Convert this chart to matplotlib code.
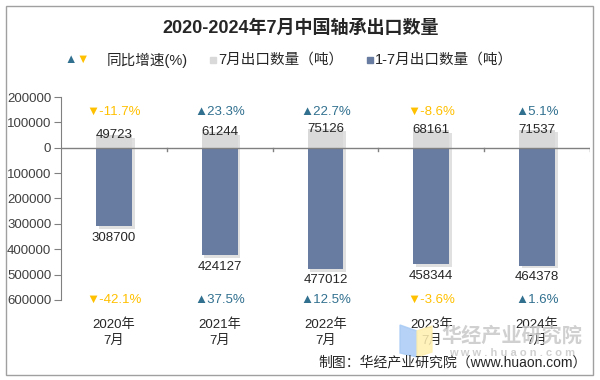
import matplotlib.pyplot as plt
import matplotlib.patheffects as pe
from matplotlib.patches import Rectangle, Polygon
import numpy as np

plt.rcParams['font.family'] = ['Liberation Sans', 'Noto Sans CJK SC', 'DejaVu Sans']

categories = ['2020年\n7月', '2021年\n7月', '2022年\n7月', '2023年\n7月', '2024年\n7月']
july_qty = [49723, 61244, 75126, 68161, 71537]
ytd_qty = [308700, 424127, 477012, 458344, 464378]
july_growth = [-11.7, 23.3, 22.7, -8.6, 5.1]
ytd_growth = [-42.1, 37.5, 12.5, -3.6, 1.6]
yticks = [200000, 100000, 0, -100000, -200000, -300000, -400000, -500000, -600000]

gray = '#D9D9D9'
blue = '#687BA1'
up_color = '#31708F'
down_color = '#FFC000'
text_color = '#262626'

fig = plt.figure(figsize=(6, 3.8), dpi=100)
ax = fig.add_axes([61 / 600, 1 - 300 / 380, 529 / 600, 203 / 380])

x = np.arange(len(categories))
shadow = [pe.SimplePatchShadow(offset=(2, -2), alpha=0.18, shadow_rgbFace='#555555'), pe.Normal()]

bars1 = ax.bar(x, july_qty, width=0.34, color=gray, zorder=2)
bars2 = ax.bar(x, [-v for v in ytd_qty], width=0.34, color=blue, zorder=2)
for b in list(bars1) + list(bars2):
    b.set_path_effects(shadow)

ax.axhline(0, color='#808080', lw=1, zorder=3)

for i in range(len(categories)):
    ax.text(x[i], july_qty[i], f'{july_qty[i]}', ha='center', va='center',
            fontsize=9.5, color=text_color, zorder=4)
    ax.annotate(f'{ytd_qty[i]}', (x[i], -ytd_qty[i]), xytext=(0, -4),
                textcoords='offset points', ha='center', va='top',
                fontsize=9.5, color=text_color)
    for val, ypos in ((july_growth[i], 140000), (ytd_growth[i], -600000)):
        sym = '▲' if val >= 0 else '▼'
        col = up_color if val >= 0 else down_color
        ax.text(x[i], ypos, f'{sym}{val}%', ha='center', va='center',
                fontsize=9.5, color=col)
    ax.annotate(categories[i], (x[i], 0), xycoords=('data', 'axes fraction'),
                xytext=(0, -13), textcoords='offset points', ha='center', va='top',
                fontsize=9.5, color=text_color, linespacing=1.45)

ax.set_xlim(-0.5, 4.5)
ax.set_ylim(-600000, 200000)
ax.set_yticks(yticks)
ax.set_yticklabels([f'{abs(v)}' for v in yticks], fontsize=9.5, color='#404040')
ax.set_xticks([])
ax.tick_params(axis='y', length=5, color='#808080', pad=2)
for s in ['top', 'right', 'bottom']:
    ax.spines[s].set_visible(False)
ax.spines['left'].set_color('#808080')

# tick marks hanging down from the zero line
for tx in [0.5, 1.5, 2.5, 3.5, 4.5]:
    ax.plot([tx, tx], [0, -12000], color='#808080', lw=1, zorder=3)

fig.text(301 / 600, 1 - 28 / 380, '2020-2024年7月中国轴承出口数量', ha='center', va='center',
         fontsize=13, fontweight='bold', color=text_color)

# legend
ly = 1 - 60 / 380
fig.text(64 / 600, ly, '▲', color=up_color, fontsize=9, va='center')
fig.text(76 / 600, ly, '▼', color=down_color, fontsize=9, va='center')
fig.text(107 / 600, ly, '同比增速(%)', color=text_color, fontsize=10.5, va='center')
fig.patches.append(Rectangle((210 / 600, 1 - 63 / 380), 6 / 600, 6 / 380, color=gray,
                             transform=fig.transFigure, figure=fig))
fig.text(218 / 600, ly, '7月出口数量（吨）', color=text_color, fontsize=10.5, va='center')
fig.patches.append(Rectangle((367 / 600, 1 - 63 / 380), 6 / 600, 6 / 380, color=blue,
                             transform=fig.transFigure, figure=fig))
fig.text(375 / 600, ly, '1-7月出口数量（吨）', color=text_color, fontsize=10.5, va='center')

# watermark
fig.patches.append(Polygon([(400 / 600, 1 - 325 / 380), (417 / 600, 1 - 331 / 380),
                            (417 / 600, 1 - 357 / 380), (400 / 600, 1 - 353 / 380)],
                           closed=True, color='#A9CBF5', alpha=0.85,
                           transform=fig.transFigure, figure=fig))
fig.patches.append(Polygon([(417 / 600, 1 - 331 / 380), (432 / 600, 1 - 326 / 380),
                            (432 / 600, 1 - 352 / 380), (417 / 600, 1 - 357 / 380)],
                           closed=True, color='#FFF0B0', alpha=0.85,
                           transform=fig.transFigure, figure=fig))
fig.text(512 / 600, 1 - 336 / 380, '华经产业研究院', ha='center', va='center', fontsize=14.5,
         fontweight='bold', color='#C8C8C8', alpha=0.85)
fig.text(512 / 600, 1 - 353 / 380, 'w w w . h u a o n . c o m', ha='center', va='center',
         fontsize=8, fontweight='bold', color='#C8C8C8', alpha=0.85)

fig.text(587 / 600, 1 - 362 / 380, '制图：华经产业研究院（www.huaon.com）', ha='right',
         va='center', fontsize=10, color=text_color)

fig.patches.append(Rectangle((6 / 600, 5 / 380), 587 / 600, 369 / 380, fill=False,
                             edgecolor='#A0A0A0', lw=1, transform=fig.transFigure, figure=fig))

fig.savefig('out.png', dpi=100)
